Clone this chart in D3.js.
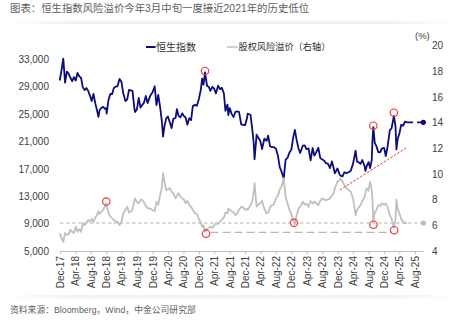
<!DOCTYPE html>
<html><head><meta charset="utf-8">
<script src="https://cdn.jsdelivr.net/npm/d3@7"></script>
<style>
body{margin:0;background:#fff;}
svg text{font-family:"Liberation Sans","Noto Sans CJK SC",sans-serif;}
</style></head><body>
<svg id="c" width="463" height="325"></svg>
<script>
// ---------------- data ----------------
const titleText = "图表：恒生指数风险溢价今年3月中旬一度接近2021年的历史低位";
const sourceText = "资料来源：Bloomberg，Wind，中金公司研究部";
const seriesNames = ["恒生指数", "股权风险溢价（右轴）"];

const dates = [
 "2017-12-29",
 "2018-01-12","2018-01-26","2018-02-09","2018-02-23","2018-03-09","2018-03-23","2018-04-06","2018-04-20","2018-05-04","2018-05-18","2018-06-01","2018-06-15","2018-06-29","2018-07-13","2018-07-27","2018-08-10","2018-08-24","2018-09-07","2018-09-21","2018-10-05","2018-10-19","2018-10-30","2018-11-09","2018-11-23","2018-12-07","2018-12-21","2018-12-31",
 "2019-01-03","2019-01-18","2019-02-01","2019-02-15","2019-03-01","2019-03-15","2019-03-29","2019-04-15","2019-04-30","2019-05-13","2019-05-31","2019-06-14","2019-06-28","2019-07-12","2019-07-26","2019-08-09","2019-08-15","2019-08-30","2019-09-13","2019-09-27","2019-10-11","2019-10-25","2019-11-08","2019-11-22","2019-12-13","2019-12-31",
 "2020-01-17","2020-01-31","2020-02-14","2020-02-28","2020-03-13","2020-03-23","2020-04-03","2020-04-17","2020-04-30","2020-05-15","2020-05-29","2020-06-12","2020-06-30","2020-07-10","2020-07-24","2020-08-07","2020-08-21","2020-09-04","2020-09-18","2020-09-30","2020-10-16","2020-10-30","2020-11-13","2020-11-30","2020-12-15","2020-12-31",
 "2021-01-15","2021-01-25","2021-02-05","2021-02-17","2021-03-05","2021-03-19","2021-03-31","2021-04-16","2021-04-30","2021-05-14","2021-05-31","2021-06-15","2021-06-30","2021-07-16","2021-07-28","2021-08-13","2021-08-20","2021-08-31","2021-09-15","2021-09-30","2021-10-15","2021-10-29","2021-11-12","2021-11-30","2021-12-15","2021-12-31",
 "2022-01-14","2022-01-20","2022-02-11","2022-02-25","2022-03-08","2022-03-15","2022-03-31","2022-04-14","2022-04-29","2022-05-13","2022-05-31","2022-06-17","2022-06-30","2022-07-15","2022-07-29","2022-08-12","2022-08-31","2022-09-15","2022-09-30","2022-10-14","2022-10-24","2022-10-31","2022-11-15","2022-11-30","2022-12-15","2022-12-30",
 "2023-01-13","2023-01-27","2023-02-10","2023-02-24","2023-03-10","2023-03-31","2023-04-14","2023-04-28","2023-05-15","2023-05-31","2023-06-16","2023-06-30","2023-07-14","2023-07-31","2023-08-15","2023-08-31","2023-09-15","2023-09-29","2023-10-13","2023-10-31","2023-11-15","2023-11-30","2023-12-08","2023-12-29",
 "2024-01-12","2024-01-22","2024-02-07","2024-02-21","2024-03-08","2024-03-28","2024-04-12","2024-04-30","2024-05-20","2024-05-31","2024-06-14","2024-06-28","2024-07-12","2024-07-31","2024-08-05","2024-08-16","2024-08-30","2024-09-11","2024-09-24","2024-09-30","2024-10-07","2024-10-18","2024-10-31","2024-11-15","2024-11-29","2024-12-13","2024-12-31",
 "2025-01-13","2025-01-27","2025-02-14","2025-02-28","2025-03-18","2025-03-31","2025-04-07","2025-04-17","2025-04-30","2025-05-15","2025-05-30","2025-06-13","2025-06-30"
];
const hsi = [
 29900,
 31400,33100,29600,31200,30900,30300,29800,30400,29900,31000,30500,30300,28900,28500,28800,28400,27700,26900,27950,26600,25550,24600,25600,25930,26050,25750,25850,
 25060,27100,27930,27900,28810,29010,29050,30130,29700,28120,26900,27120,28540,28470,28400,25940,25300,25720,27350,25950,26310,26670,27650,26600,27690,28190,
 29060,26310,27810,26130,24030,21700,23240,24380,24640,23800,22960,24300,24430,25730,24700,24530,25110,24700,24460,23460,24390,24110,26160,26340,26210,27230,
 28570,30160,29290,31080,29100,28990,28380,28970,28720,28030,29150,28640,28830,28000,25470,26390,24850,25880,25030,24580,25330,25380,25330,23480,23420,23400,
 24380,25050,24900,22770,20770,18420,21990,21520,21090,19900,21420,21080,21860,20300,20160,20180,19950,18930,17220,16590,16000,15600,18340,18600,19370,19780,
 21520,22690,21190,20010,19320,20400,20440,19890,19970,18230,20040,18920,19410,20080,18580,18380,18180,17810,17810,17110,18080,17040,16330,17050,
 16300,16000,15900,16500,16350,16540,16720,17760,19640,18080,17940,17720,18290,17340,16700,17430,17990,17110,18250,21130,23100,20800,20320,19430,19420,19970,20060,
 18870,20230,22620,22940,24740,23120,19830,21400,22120,23450,23290,23890,23800
];
const erp = [
 5.38,
 5.0,4.72,5.4,5.25,5.3,5.64,5.5,5.4,5.9,5.5,5.7,5.5,6.16,6.0,6.2,6.42,6.3,6.5,6.28,6.6,6.8,7.1,6.9,7.06,7.2,7.5,7.72,
 7.6,6.94,6.7,6.55,6.4,6.3,6.28,6.03,6.3,6.9,7.2,7.45,7.0,7.06,7.2,7.9,8.1,7.8,7.72,8.0,7.97,7.8,7.5,7.33,7.3,7.2,
 7.1,7.84,7.6,8.3,8.9,10.06,9.4,8.75,8.8,8.9,8.62,8.5,8.1,8.3,8.5,8.23,8.1,8.0,7.72,7.9,7.6,7.45,7.2,6.94,6.9,6.5,
 6.2,5.9,6.0,5.5,5.7,5.8,5.9,5.8,6.0,6.16,6.1,6.3,6.42,6.6,7.0,6.94,7.3,7.2,7.1,7.0,6.8,6.9,7.2,7.45,7.4,7.2,
 7.3,7.2,7.58,7.9,8.6,9.28,7.45,7.6,7.72,7.9,7.3,6.94,7.0,7.4,7.58,7.6,8.1,8.3,8.8,9.0,9.4,9.67,8.2,7.72,7.2,6.9,
 6.42,6.1,6.8,7.3,7.45,7.84,7.6,7.7,7.45,7.9,7.7,7.84,7.7,7.58,7.9,8.1,8.0,7.97,8.0,8.1,8.3,8.5,8.9,9.4,
 9.5,9.67,9.4,9.14,8.9,8.75,8.6,8.1,6.8,7.2,7.4,7.58,7.9,8.23,8.5,8.88,8.7,9.4,8.8,8.0,6.28,7.0,7.2,7.58,7.5,7.72,7.6,
 7.7,7.45,6.8,6.5,5.8,6.5,8.0,7.3,6.94,6.5,6.3,6.16,6.2
];

// extension / reference markers
const endDate = "2025-11-05";
const hsiEndValue = 23800;
const erpRefValue = 6.18;          // short-dashed reference line
const erpLowValue = 5.45;          // long-dashed low line
const erpLowDates = ["2021-04-01", "2025-03-03"];
const trendDates = ["2024-01-17", "2025-06-26"];
const trendValues = [13910, 20090];
const hsiCircleDates = ["2021-02-17", "2024-10-07", "2025-03-18"];
const hsiCircleValues = [31300, 23300, 25200];
const erpCircleDates = ["2018-12-31", "2021-02-25", "2023-01-20", "2024-10-08", "2025-03-20"];
const erpCircleValues = [7.85, 5.35, 6.2, 6.05, 5.62];

const xTickLabels = ["Dec-17","Apr-18","Aug-18","Dec-18","Apr-19","Aug-19","Dec-19","Apr-20","Aug-20","Dec-20","Apr-21","Aug-21","Dec-21","Apr-22","Aug-22","Dec-22","Apr-23","Aug-23","Dec-23","Apr-24","Aug-24","Dec-24","Apr-25","Aug-25"];
const leftTicks = [5000,9000,13000,17000,21000,25000,29000,33000];
const rightTicks = [4,6,8,10,12,14,16,18,20];

// ---------------- drawing ----------------
const parse = d3.timeParse("%Y-%m-%d");
const parseLbl = d3.timeParse("%b-%y");
const svg = d3.select("#c");
const NAVY = "#0c0c7e", GREY = "#c0c0c0", RED = "#ee3a3a", TXT = "#404040";

const x = d3.scaleTime().domain([parse("2017-12-31"), parse(endDate)]).range([60, 423.3]);
const yL = d3.scaleLinear().domain([5000, 35000]).range([251, 45.6]);
const yR = d3.scaleLinear().domain([4, 20]).range([251, 45.6]);

// card shadows
const defs = svg.append("defs");
const g1 = defs.append("linearGradient").attr("id","hfade");
g1.append("stop").attr("offset","0").attr("stop-color","#000").attr("stop-opacity",0);
g1.append("stop").attr("offset","0.15").attr("stop-color","#000").attr("stop-opacity",0.12);
g1.append("stop").attr("offset","0.85").attr("stop-color","#000").attr("stop-opacity",0.12);
g1.append("stop").attr("offset","1").attr("stop-color","#000").attr("stop-opacity",0);
defs.append("filter").attr("id","blur").attr("x","-5%").attr("y","-300%").attr("width","110%").attr("height","700%")
  .append("feGaussianBlur").attr("stdDeviation","0 1.6");
svg.append("rect").attr("x",5).attr("y",22).attr("width",453).attr("height",2).attr("fill","url(#hfade)").attr("filter","url(#blur)");
svg.append("rect").attr("x",5).attr("y",295).attr("width",453).attr("height",2).attr("fill","url(#hfade)").attr("filter","url(#blur)");
svg.append("rect").attr("x",0).attr("y",24).attr("width",463).attr("height",271).attr("fill","#fff");

// title & source
svg.append("text").attr("x",10).attr("y",8).attr("dy","0.35em").attr("font-size",10.4).attr("fill","#606060").text(titleText);
svg.append("text").attr("x",10).attr("y",310).attr("dy","0.35em").attr("font-size",8.8).attr("fill","#606060").text(sourceText);

// left axis
const ax = svg.append("g").attr("transform","translate(49,0)")
  .call(d3.axisLeft(yL).tickValues(leftTicks).tickFormat(d3.format(",")).tickSize(0).tickPadding(0));
ax.select(".domain").remove();
ax.selectAll("text").attr("font-size",10).attr("fill",TXT).attr("font-family","Liberation Sans");

// right axis
const ar = svg.append("g").attr("transform","translate(432,0)")
  .call(d3.axisRight(yR).tickValues(rightTicks).tickSize(0).tickPadding(0));
ar.select(".domain").remove();
ar.selectAll("text").attr("font-size",10).attr("fill",TXT).attr("font-family","Liberation Sans");
svg.append("text").attr("x",415).attr("y",36).attr("dy","0.35em").attr("font-size",9.5).attr("fill",TXT).text("(%)");

// bottom axis
const tickDates = xTickLabels.map(l => d3.timeDay.offset(d3.timeMonth.offset(parseLbl(l), 1), -1));
const ab = svg.append("g").attr("transform","translate(0,251)")
  .call(d3.axisBottom(x).tickValues(tickDates).tickSize(3).tickSizeOuter(0).tickFormat((d,i)=>xTickLabels[i]));
ab.select(".domain").attr("stroke","#bfbfbf");
ab.selectAll(".tick line").attr("stroke","#bfbfbf");
ab.selectAll("text").attr("transform","rotate(-90)").attr("text-anchor","end")
  .attr("x",-5).attr("y",0).attr("dy","0.35em").attr("font-size",10).attr("fill",TXT).attr("font-family","Liberation Sans");

const D = dates.map(parse);

// reference dashed lines (grey)
svg.append("line").attr("x1",x(parse("2017-12-31"))).attr("x2",x(parse(endDate)))
  .attr("y1",yR(erpRefValue)).attr("y2",yR(erpRefValue))
  .attr("stroke","#b0b0b0").attr("stroke-width",1).attr("stroke-dasharray","3.5,2.5");
svg.append("line").attr("x1",x(parse(erpLowDates[0]))).attr("x2",x(parse(erpLowDates[1])))
  .attr("y1",yR(erpLowValue)).attr("y2",yR(erpLowValue))
  .attr("stroke","#b8b8b8").attr("stroke-width",1.3).attr("stroke-dasharray","8,4");

// HSI line
const lineL = d3.line().x((d,i)=>x(D[i])).y(d=>yL(d));
svg.append("path").datum(hsi).attr("d",lineL).attr("fill","none").attr("stroke",NAVY).attr("stroke-width",1.8).attr("stroke-linejoin","round");
// HSI extension
svg.append("line").attr("x1",x(D[D.length-1])).attr("x2",x(parse(endDate)))
  .attr("y1",yL(hsi[hsi.length-1])).attr("y2",yL(hsiEndValue))
  .attr("stroke",NAVY).attr("stroke-width",1.8).attr("stroke-dasharray","6,4");
svg.append("circle").attr("cx",x(parse(endDate))).attr("cy",yL(hsiEndValue)).attr("r",2.6).attr("fill",NAVY);

// ERP line
const lineR = d3.line().x((d,i)=>x(D[i])).y(d=>yR(d));
svg.append("path").datum(erp).attr("d",lineR).attr("fill","none").attr("stroke",GREY).attr("stroke-width",1.8).attr("stroke-linejoin","round");
svg.append("circle").attr("cx",x(parse(endDate))).attr("cy",yR(erpRefValue)).attr("r",2.6).attr("fill","#bdbdbd");

// red trend line
svg.append("line").attr("x1",x(parse(trendDates[0]))).attr("x2",x(parse(trendDates[1])))
  .attr("y1",yL(trendValues[0])).attr("y2",yL(trendValues[1]))
  .attr("stroke",RED).attr("stroke-width",1).attr("stroke-dasharray","2.5,1.5");

// red circles
svg.selectAll(".ch").data(hsiCircleDates).enter().append("circle")
  .attr("cx",d=>x(parse(d))).attr("cy",(d,i)=>yL(hsiCircleValues[i])).attr("r",3.7)
  .attr("fill","none").attr("stroke",RED).attr("stroke-width",1.2);
svg.selectAll(".ce").data(erpCircleDates).enter().append("circle")
  .attr("cx",d=>x(parse(d))).attr("cy",(d,i)=>yR(erpCircleValues[i])).attr("r",3.7)
  .attr("fill","none").attr("stroke",RED).attr("stroke-width",1.2);

// legend
svg.append("line").attr("x1",146).attr("x2",155.5).attr("y1",47).attr("y2",47).attr("stroke",NAVY).attr("stroke-width",2);
svg.append("text").attr("x",156).attr("y",47).attr("dy","0.35em").attr("font-size",10).attr("fill","#303030").text(seriesNames[0]);
svg.append("line").attr("x1",227).attr("x2",238).attr("y1",47).attr("y2",47).attr("stroke",GREY).attr("stroke-width",1.5);
svg.append("text").attr("x",238.5).attr("y",47).attr("dy","0.35em").attr("font-size",9.2).attr("fill","#303030").text(seriesNames[1]);
</script>
</body></html>
